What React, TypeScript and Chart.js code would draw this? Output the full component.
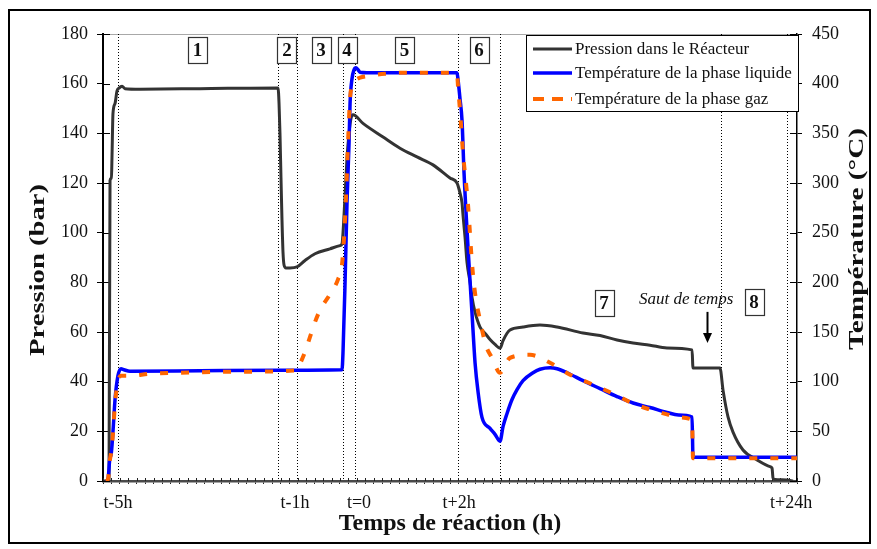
import React, { useEffect, useRef } from 'react';
import { Chart, registerables } from 'chart.js';

Chart.register(...registerables);

const SERIF = "'Liberation Serif', 'Times New Roman', Times, serif";

// X axis: positions in units of the axis minor ticks (the time axis is not linear, with a time jump)
const X_MIN = 0;
const X_MAX = 82;
const timeTickPositions = [1.77, 22.7, 30.25, 42.07, 81.3];
const timeTickLabels = ['t-5h', 't-1h', 't=0', 't+2h', 't+24h'];
const phaseBoundaries = [1.77, 20.68, 22.92, 28.33, 29.74, 41.95, 46.91, 73.02, 80.82];

const phaseNumbers = ['1', '2', '3', '4', '5', '6', '7', '8'];
const phaseNumberX = [11.17, 21.74, 25.76, 28.83, 35.63, 44.43, 59.2, 76.92];
const phaseNumberY = [173.6, 173.6, 173.6, 173.6, 173.6, 173.6, 71.5, 71.9];

const jumpLabel = 'Saut de temps';
const jumpLabelX = 68.9;
const jumpLabelY = 72.9;
const jumpArrowX = 71.37;
const jumpArrowFrom = 68.1;
const jumpArrowTo = 55.6;

const pressureLabel = 'Pression dans le Réacteur';
const liquidLabel = 'Température de la phase liquide';
const gasLabel = 'Température de la phase gaz';

// Pressure (bar), left axis
const pressureX = [0.12, 0.71, 0.83, 1.0, 1.06, 1.18, 1.42, 1.65, 1.89, 2.25, 2.6, 4.37, 11.46, 20.68,
  20.8, 20.91, 21.03, 21.15, 21.27, 21.39, 21.62, 22.1, 22.92, 23.87, 25.05, 26.82, 28.0, 28.24,
  28.36, 28.6, 28.83, 29.07, 29.3, 29.54, 30.72, 33.09, 35.09, 37.1, 38.99, 41.0, 41.83,
  42.18, 42.42, 42.54, 42.78, 43.01, 43.37, 43.6, 43.96, 44.55, 45.26, 45.73, 46.32, 46.91,
  47.27, 47.74, 48.09, 49.63, 51.63, 53.65, 56.72, 58.73, 60.74, 62.63, 64.63, 66.64, 69.6,
  69.71, 72.9, 73.26, 73.85, 74.44, 75.62, 77.28, 78.81, 79.05, 79.17, 79.4, 80.82, 81.53];
const pressureY = [0, 0, 121, 122, 130, 148, 152, 157, 158.2, 159, 158, 157.8, 158, 158.3,
  152, 140, 122, 105, 92, 87, 85.8, 85.8, 86.2, 88.8, 91.5, 93.5, 94.8, 95.5,
  100, 115, 130, 140, 146, 147.5, 144, 138.5, 134, 130.5, 127.3, 122, 120,
  116, 112, 107, 98, 88, 80, 74, 68, 62, 59, 57, 55, 53.5,
  56.5, 59.5, 60.8, 62, 62.8, 62, 59.6, 58.6, 56.8, 55.6, 54.7, 53.6, 52.8,
  45.5, 45.5, 36.6, 25.8, 19.7, 12.5, 8.5, 5.8, 5.2, 1.2, 0.6, 0.4, 0];

// Liquid phase temperature (°C), right axis
const liquidX = [0.35, 0.59, 0.83, 0.95, 1.18, 1.42, 1.77, 2.13, 2.48, 3.19, 11.46, 20.68, 28.24,
  28.36, 28.6, 28.83, 29.07, 29.19, 29.42, 29.66, 29.89, 30.13, 30.37, 31.19, 41.83,
  41.95, 42.18, 42.42, 42.66, 43.13, 43.6, 43.96, 44.31, 44.78, 45.73, 46.32, 46.91,
  47.27, 47.74, 48.33, 48.92, 49.63, 50.81, 51.63, 52.82, 53.65, 54.83, 56.72, 58.73,
  60.74, 62.63, 64.63, 66.64, 68.0, 69.6, 69.71, 82.0];
const liquidY = [0, 2, 24, 26, 50, 82, 106, 113, 112, 110.5, 111, 111.5, 112,
  130, 200, 280, 340, 380, 405, 414, 416, 414, 411.5, 411, 411,
  404, 385, 363, 310, 235, 169, 119, 90, 64, 53, 47, 40,
  55, 68, 82, 92, 101, 109, 112.5, 114, 113, 109, 101, 93,
  85, 78.5, 74, 69, 66.5, 64.4, 24, 24];

// Gas phase temperature (°C), right axis
const gasX = [0.35, 0.59, 0.83, 0.95, 1.18, 1.42, 1.77, 2.13, 3.19, 5.55, 9.1, 16.19, 22.92,
  23.28, 23.87, 24.46, 25.05, 25.64, 26.82, 27.77, 28.24, 28.48, 28.71, 28.95, 29.19, 29.42,
  29.78, 30.37, 31.55, 33.32, 35.45, 40.65, 41.83, 41.95, 42.18, 42.54, 43.13, 43.6, 43.96,
  44.55, 45.26, 45.97, 46.91, 48.09, 50.45, 52.82, 55.18, 57.9, 60.26, 62.63, 64.63, 66.64,
  67.82, 69.6, 69.71, 82.0];
const gasY = [0, 2, 22, 28, 48, 78, 100, 106, 106, 108, 109, 110, 111.5,
  118, 130, 145, 160, 172, 188, 203, 218, 245, 285, 340, 385, 398,
  403, 406, 408, 410, 411, 411, 410, 397, 373, 330, 278, 219, 189,
  162, 136, 124, 109, 124, 127, 119, 107, 97, 88, 78, 72, 67,
  64, 61.5, 23, 23];

const pressureTicksMax = 180;
const temperatureTicksMax = 450;

function toPoints(xs: number[], ys: number[]) {
  return xs.map((x, i) => ({ x, y: ys[i] }));
}

function isLabelTick(v: number) {
  return timeTickPositions.some((p) => Math.abs(p - v) < 1e-6);
}

const overlayPlugin = {
  id: 'overlay',
  beforeDraw(chart: any) {
    const { ctx, width, height } = chart;
    ctx.save();
    ctx.fillStyle = '#ffffff';
    ctx.fillRect(0, 0, width, height);
    ctx.restore();
  },
  beforeDatasetsDraw(chart: any) {
    const { ctx, chartArea: a, scales } = chart;
    const xs = scales.x, ys = scales.y, y1 = scales.y1;
    ctx.save();
    ctx.strokeStyle = '#a8a8a8';
    ctx.lineWidth = 1;
    ctx.beginPath();
    ctx.moveTo(a.left, a.top + 0.5);
    ctx.lineTo(a.right, a.top + 0.5);
    ctx.stroke();
    ctx.strokeStyle = '#000';
    ctx.setLineDash([1, 2]);
    for (const u of phaseBoundaries) {
      const px = Math.round(xs.getPixelForValue(u)) + 0.5;
      ctx.beginPath();
      ctx.moveTo(px, a.top);
      ctx.lineTo(px, a.bottom);
      ctx.stroke();
    }
    ctx.setLineDash([]);
    ctx.strokeStyle = '#000';
    ctx.lineWidth = 1;
    for (const t of ys.ticks) {
      const py = Math.round(ys.getPixelForValue(t.value)) + 0.5;
      ctx.beginPath(); ctx.moveTo(a.left, py); ctx.lineTo(a.left + 7, py); ctx.stroke();
    }
    for (const t of y1.ticks) {
      const py = Math.round(y1.getPixelForValue(t.value)) + 0.5;
      ctx.beginPath(); ctx.moveTo(a.right - 7, py); ctx.lineTo(a.right, py); ctx.stroke();
    }
    ctx.strokeStyle = '#222';
    for (const t of xs.ticks) {
      if (isLabelTick(t.value)) continue;
      const px = Math.round(xs.getPixelForValue(t.value)) + 0.5;
      ctx.beginPath(); ctx.moveTo(px, a.bottom - 3); ctx.lineTo(px, a.bottom); ctx.stroke();
    }
    ctx.restore();
  },
  afterDraw(chart: any) {
    const { ctx, chartArea: a, scales } = chart;
    const xs = scales.x, ys = scales.y;
    ctx.save();

    ctx.font = `bold 19px ${SERIF}`;
    ctx.textAlign = 'center';
    ctx.textBaseline = 'middle';
    phaseNumbers.forEach((n, i) => {
      const cx = xs.getPixelForValue(phaseNumberX[i]);
      const cy = ys.getPixelForValue(phaseNumberY[i]);
      const bw = 19, bh = 26;
      ctx.fillStyle = '#fff';
      ctx.fillRect(cx - bw / 2, cy - bh / 2, bw, bh);
      ctx.strokeStyle = '#333';
      ctx.lineWidth = 1.2;
      ctx.strokeRect(Math.round(cx - bw / 2) + 0.5, Math.round(cy - bh / 2) + 0.5, bw, bh);
      ctx.fillStyle = '#111';
      ctx.fillText(n, cx, cy + 1);
    });

    ctx.font = `italic 17px ${SERIF}`;
    ctx.fillStyle = '#111';
    ctx.fillText(jumpLabel, xs.getPixelForValue(jumpLabelX), ys.getPixelForValue(jumpLabelY));
    const ax = Math.round(xs.getPixelForValue(jumpArrowX)) + 0.5;
    const ay0 = ys.getPixelForValue(jumpArrowFrom);
    const ay1 = ys.getPixelForValue(jumpArrowTo);
    ctx.strokeStyle = '#000';
    ctx.lineWidth = 2;
    ctx.beginPath(); ctx.moveTo(ax, ay0); ctx.lineTo(ax, ay1 - 8); ctx.stroke();
    ctx.fillStyle = '#000';
    ctx.beginPath(); ctx.moveTo(ax - 4.5, ay1 - 10); ctx.lineTo(ax + 4.5, ay1 - 10); ctx.lineTo(ax, ay1); ctx.closePath(); ctx.fill();

    const lx = 526, ly = 35, lw = 272, lh = 76;
    ctx.fillStyle = '#fff';
    ctx.fillRect(lx, ly, lw, lh);
    ctx.strokeStyle = '#000';
    ctx.lineWidth = 1;
    ctx.strokeRect(lx + 0.5, ly + 0.5, lw, lh);
    ctx.font = `17px ${SERIF}`;
    ctx.textAlign = 'left';
    ctx.textBaseline = 'middle';
    ctx.fillStyle = '#111';
    const rows = [
      { label: pressureLabel, color: '#333333', w: 3, dash: [] as number[], y: 49 },
      { label: liquidLabel, color: '#0000ff', w: 3.5, dash: [] as number[], y: 73 },
      { label: gasLabel, color: '#ff6600', w: 4, dash: [11, 8], y: 99 },
    ];
    for (const r of rows) {
      ctx.strokeStyle = r.color;
      ctx.lineWidth = r.w;
      ctx.setLineDash(r.dash);
      ctx.beginPath(); ctx.moveTo(533, r.y); ctx.lineTo(572, r.y); ctx.stroke();
      ctx.setLineDash([]);
      ctx.fillText(r.label, 575, r.y + 1);
    }

    ctx.fillStyle = '#111';
    ctx.textAlign = 'center';
    ctx.font = `bold 24px ${SERIF}`;
    ctx.textBaseline = 'alphabetic';
    ctx.fillText('Temps de réaction (h)', (a.left + a.right) / 2, 530);

    const vtitle = (text: string, cx: number, cy: number, len: number) => {
      ctx.save();
      ctx.translate(cx, cy);
      ctx.rotate(-Math.PI / 2);
      ctx.font = `bold 21px ${SERIF}`;
      const w = ctx.measureText(text).width;
      ctx.scale(len / w, 1);
      ctx.textAlign = 'center';
      ctx.textBaseline = 'middle';
      ctx.fillText(text, 0, 0);
      ctx.restore();
    };
    vtitle('Pression (bar)', 39, 270, 172);
    vtitle('Température (°C)', 858, 239, 222);

    ctx.strokeStyle = '#000';
    ctx.lineWidth = 2;
    ctx.strokeRect(9, 10, 861, 533);
    ctx.restore();
  },
};

export default function App() {
  const canvasRef = useRef<HTMLCanvasElement | null>(null);

  useEffect(() => {
    const canvas = canvasRef.current;
    if (!canvas) return;
    const minorTicks = Array.from({ length: X_MAX - X_MIN + 1 }, (_, i) => X_MIN + i);
    const chart = new Chart(canvas, {
      type: 'line',
      data: {
        datasets: [
          {
            label: pressureLabel,
            data: toPoints(pressureX, pressureY),
            yAxisID: 'y',
            borderColor: '#333333',
            borderWidth: 3,
            pointRadius: 0,
            cubicInterpolationMode: 'monotone',
            borderJoinStyle: 'round',
            order: 3,
          },
          {
            label: liquidLabel,
            data: toPoints(liquidX, liquidY),
            yAxisID: 'y1',
            borderColor: '#0000ff',
            borderWidth: 3.5,
            pointRadius: 0,
            cubicInterpolationMode: 'monotone',
            borderJoinStyle: 'round',
            order: 2,
          },
          {
            label: gasLabel,
            data: toPoints(gasX, gasY),
            yAxisID: 'y1',
            borderColor: '#ff6600',
            borderWidth: 4,
            borderDash: [8, 13],
            pointRadius: 0,
            cubicInterpolationMode: 'monotone',
            order: 1,
          },
        ],
      } as any,
      options: {
        animation: false,
        responsive: false,
        devicePixelRatio: 1,
        layout: { padding: { top: 34, left: 0, right: 0, bottom: 0 } },
        plugins: { legend: { display: false }, tooltip: { enabled: false } },
        scales: {
          x: {
            type: 'linear',
            min: X_MIN,
            max: X_MAX,
            afterBuildTicks: (scale: any) => {
              const vals = [...minorTicks, ...timeTickPositions].sort((p, q) => p - q);
              scale.ticks = vals.map((v) => ({ value: v }));
            },
            afterFit: (scale: any) => { scale.height = 68; },
            grid: {
              display: true,
              drawOnChartArea: false,
              drawTicks: true,
              tickLength: 3,
              tickColor: (c: any) => (c.tick && isLabelTick(c.tick.value) ? 'rgba(0,0,0,0)' : '#222'),
            },
            border: { display: true, color: '#4a4a4a', width: 2.5 },
            ticks: {
              autoSkip: false,
              maxRotation: 0,
              minRotation: 0,
              padding: 8,
              color: '#111',
              font: { family: SERIF, size: 18 },
              callback: (v: any) => {
                const i = timeTickPositions.findIndex((p) => Math.abs(p - Number(v)) < 1e-6);
                return i >= 0 ? timeTickLabels[i] : '';
              },
            },
          },
          y: {
            type: 'linear',
            position: 'left',
            min: 0,
            max: pressureTicksMax,
            afterFit: (scale: any) => { scale.width = 103; },
            grid: { display: true, drawOnChartArea: false, drawTicks: true, tickLength: 6, tickColor: '#000' },
            border: { display: true, color: '#000', width: 2 },
            ticks: { stepSize: 20, padding: 9, color: '#111', font: { family: SERIF, size: 18 } },
          },
          y1: {
            type: 'linear',
            position: 'right',
            min: 0,
            max: temperatureTicksMax,
            afterFit: (scale: any) => { scale.width = 80; },
            grid: { display: true, drawOnChartArea: false, drawTicks: true, tickLength: 5, tickColor: '#000' },
            border: { display: true, color: '#000', width: 1.5 },
            ticks: { stepSize: 50, padding: 10, color: '#111', font: { family: SERIF, size: 18 } },
          },
        },
      } as any,
      plugins: [overlayPlugin],
    });
    return () => chart.destroy();
  }, []);

  return (
    <div style={{ position: 'absolute', left: 0, top: 0, width: 877, height: 549 }}>
      <canvas ref={canvasRef} width={877} height={549} style={{ display: 'block', width: 877, height: 549 }} />
    </div>
  );
}
